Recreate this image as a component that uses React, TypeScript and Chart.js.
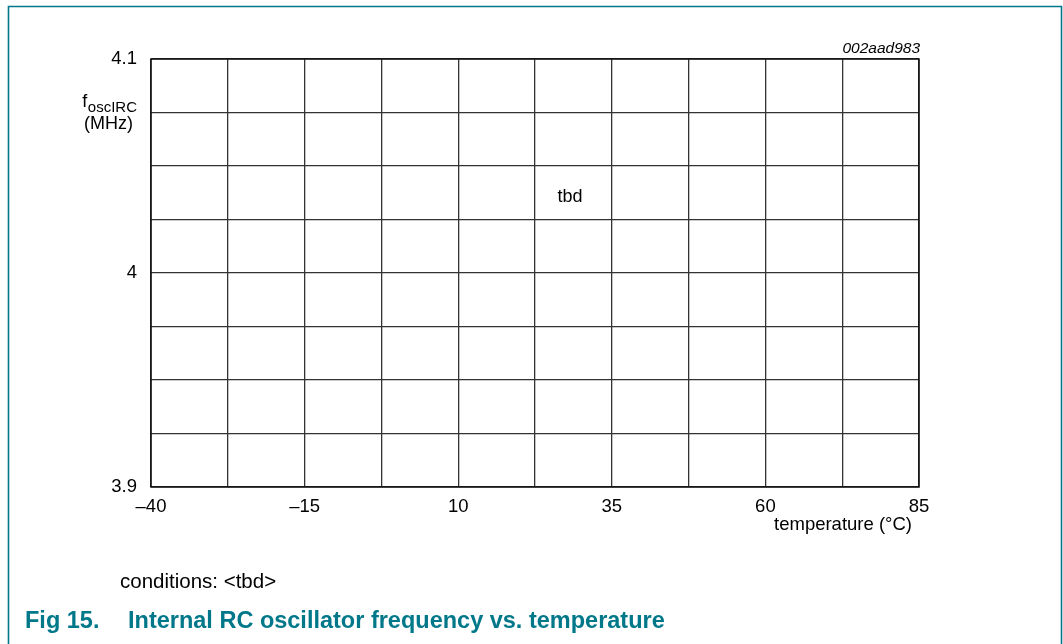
import React, { useEffect, useRef } from "react";
import { Chart, registerables } from "chart.js";

Chart.register(...registerables);

// Data (the reference shows an empty "tbd" grid)
const xMin = -40;
const xMax = 85;
const xStep = 12.5;
const xLabeled = [-40, -15, 10, 35, 60, 85];
const yMin = 3.9;
const yMax = 4.1;
const yStep = 0.025;
const yLabeled = [3.9, 4, 4.1];
const seriesPoints: { x: number; y: number }[] = [];

const TEAL = "#00788a";
const FONT = "'Liberation Sans', Arial, sans-serif";

function fmt(v: number) {
  const s = String(Math.round(v * 1000) / 1000);
  return s.replace("-", "\u2013");
}

const textPlugin = {
  id: "textPlugin",
  afterDraw(chart: any) {
    const ctx = chart.ctx;
    const a = chart.chartArea;
    ctx.save();
    ctx.fillStyle = "#000";
    // y axis title
    ctx.textBaseline = "alphabetic";
    ctx.textAlign = "right";
    ctx.font = `15px ${FONT}`;
    const sub = "oscIRC";
    const subW = ctx.measureText(sub).width;
    ctx.fillText(sub, 137, 112);
    ctx.font = `18px ${FONT}`;
    ctx.fillText("f", 137 - subW - 0.5, 107);
    ctx.fillText("(MHz)", 133, 129);
    // top-right id
    ctx.font = `italic 15.5px ${FONT}`;
    ctx.textAlign = "right";
    ctx.fillText("002aad983", a.right + 1, 53);
    // x axis title
    ctx.font = `18.5px ${FONT}`;
    ctx.textAlign = "right";
    ctx.fillText("temperature (\u00b0C)", 912, 530);
    // tbd
    ctx.textAlign = "center";
    ctx.font = `18px ${FONT}`;
    ctx.fillText("tbd", 570, 202);
    // conditions
    ctx.textAlign = "left";
    ctx.font = `20.5px ${FONT}`;
    ctx.fillText("conditions: <tbd>", 120, 588);
    // figure caption
    ctx.fillStyle = TEAL;
    ctx.font = `bold 23.5px ${FONT}`;
    ctx.fillText("Fig 15.", 25, 628);
    ctx.fillText("Internal RC oscillator frequency vs. temperature", 128, 628);
    // frame
    ctx.strokeStyle = TEAL;
    ctx.lineWidth = 1.6;
    ctx.beginPath();
    ctx.moveTo(8.5, 644);
    ctx.lineTo(8.5, 6.5);
    ctx.lineTo(1061.5, 6.5);
    ctx.lineTo(1061.5, 644);
    ctx.stroke();
    // plot border
    ctx.strokeStyle = "#111";
    ctx.lineWidth = 1.5;
    ctx.strokeRect(a.left, a.top, a.right - a.left, a.bottom - a.top);
    ctx.restore();
  },
};

export default function App() {
  const ref = useRef<HTMLCanvasElement | null>(null);
  useEffect(() => {
    document.body.style.margin = "0";
    const chart = new Chart(ref.current as HTMLCanvasElement, {
      type: "scatter",
      data: {
        datasets: [
          {
            label: "tbd",
            data: seriesPoints,
            borderColor: "#000",
            backgroundColor: "#000",
          },
        ],
      },
      options: {
        animation: false,
        responsive: false,
        events: [],
        layout: { padding: { top: 59, right: 144, left: 0, bottom: 0 } },
        plugins: { legend: { display: false }, tooltip: { enabled: false } },
        scales: {
          x: {
            type: "linear",
            min: xMin,
            max: xMax,
            afterFit: (s: any) => {
              s.height = 157;
            },
            afterBuildTicks: (s: any) => {
              const t = [];
              for (let v = xMin; v <= xMax + 1e-9; v += xStep) t.push({ value: v });
              s.ticks = t;
            },
            grid: { color: "#333", lineWidth: 1.3, drawTicks: false },
            border: { display: false },
            ticks: {
              padding: 9,
              maxRotation: 0,
              autoSkip: false,
              color: "#000",
              font: { family: FONT, size: 18.5 },
              callback: (v: any) =>
                xLabeled.some((l) => Math.abs(l - Number(v)) < 1e-6) ? fmt(Number(v)) : "",
            },
          },
          y: {
            type: "linear",
            min: yMin,
            max: yMax,
            afterFit: (s: any) => {
              s.width = 151;
            },
            afterBuildTicks: (s: any) => {
              const t = [];
              for (let i = 0; i <= Math.round((yMax - yMin) / yStep); i++)
                t.push({ value: yMin + i * yStep });
              s.ticks = t;
            },
            grid: { color: "#333", lineWidth: 1.3, drawTicks: false },
            border: { display: false },
            ticks: {
              padding: 14,
              autoSkip: false,
              color: "#000",
              font: { family: FONT, size: 18.5 },
              callback: (v: any) =>
                yLabeled.some((l) => Math.abs(l - Number(v)) < 1e-6) ? fmt(Number(v)) : "",
            },
          },
        },
      },
      plugins: [textPlugin],
    } as any);
    return () => chart.destroy();
  }, []);
  return (
    <div style={{ position: "relative", width: 1063, height: 644, background: "#fff" }}>
      <canvas ref={ref} width={1063} height={644} style={{ display: "block" }} />
    </div>
  );
}
